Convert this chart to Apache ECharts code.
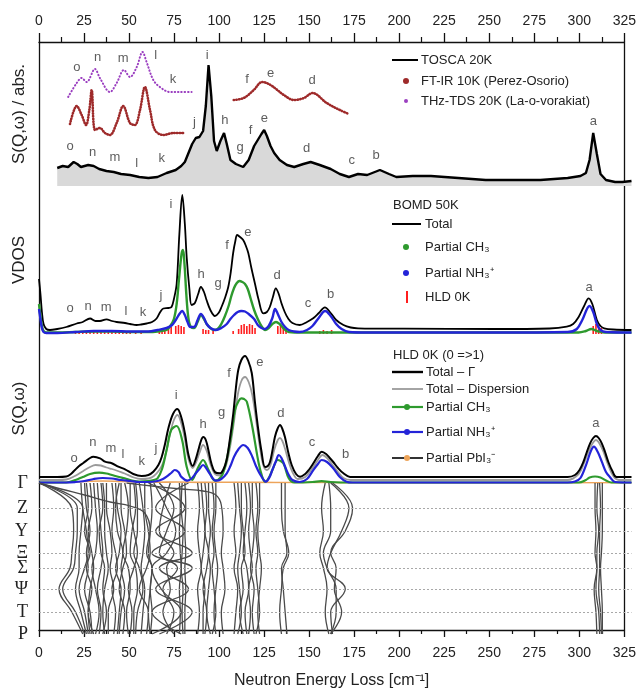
<!DOCTYPE html>
<html>
<head>
<meta charset="utf-8">
<script src="https://cdn.jsdelivr.net/npm/echarts@6/dist/echarts.min.js"></script>
<style>
html,body{margin:0;padding:0;background:#fff}
#chart{width:639px;height:694px}
</style>
</head>
<body>
<div id="chart"></div>
<script>
// ---------- Panel 1: INS spectrum (TOSCA) and optical spectra ----------
var tosca = [[10,18],[13,20],[16,19],[19,24],[21,22],[23,19],[25,20],[27,21],[30,20],[33,17],[37,15],[41,14],[45,12],[50,11],[55,9],[60,8],[65,9],[70,13],[75,16],[78,20],[80,24],[82,33],[84,42],[86,48],[88,49],[90,55],[91.5,80],[93,121],[94.5,90],[96,45],[97.5,35],[99.5,45],[101.5,53],[103,42],[105,26],[108,22],[112,19],[115,26],[118,40],[120,46],[122,52],[123.5,56],[125,50],[127,40],[129,33],[132,26],[136,21],[140,19],[145,22],[149,24],[154,21],[160,17],[165,12],[170,9],[175,12],[180,11],[187,16],[192,12],[196,9],[205,10],[215,10],[230,8],[245,6],[260,6],[275,6],[290,8],[297,10],[300,13],[302,26],[304,53],[306,32],[308,12],[311,6],[316,4],[320,4],[325,5]];
var ftirLow = [[17,62],[20.7,80],[23.4,71],[25.8,61],[27.6,76],[28.9,96],[30.7,56],[33.4,58],[36.2,53],[38.9,51],[42.6,63],[46.2,80],[49.9,63],[52.6,61],[55.4,76],[58.1,99],[60.9,76],[63.6,56],[68.2,51],[73.7,53],[79.2,53]];
var ftirHigh = [[106.8,86],[112.3,88],[117.8,96],[122.4,104],[127,101],[134.3,91],[139.8,86],[145.3,88],[150,93],[157.8,83],[165,76],[170,72]];
var thz = [[16,89],[20.7,103],[23.4,108],[26.1,104],[30.7,117],[33.4,108],[38.9,94],[42.6,103],[46.6,116],[49.9,109],[53.6,119],[56.8,134],[59,124],[62.7,106],[66.3,99],[71.8,94],[77.3,94],[83.7,94]];
var peaks1 = [['o',17,40],['n',29.4,34],['m',41.7,29],['l',53.6,23],['k',67.3,28],['j',85.2,64],['i',92.2,131],['h',102,66],['g',110.3,39],['f',116.1,56],['e',123.6,68],['d',146.8,38],['c',171.5,26],['b',184.9,31],['a',304.1,65],
              ['o',20.8,119],['n',32.2,129],['m',46.1,128],['l',64,131],['k',73.5,107],['f',114.1,107],['e',127.1,113],['d',149.8,106]];

// ---------- Panel 2: VDOS from BOMD at 50 K ----------
var vdosTotal = [[0,55],[0.8,40],[1.6,22],[2.5,10],[4,5],[6,4],[10,5],[15,7],[20.7,10.5],[24,12],[28,15.5],[31,13],[33.4,13],[37,14.7],[40,13],[42.6,12],[47.2,11],[50,10],[53.5,9],[56,9.5],[59,10.5],[62,12],[64.5,15.5],[66.5,22],[68.2,25.5],[71,26],[72.7,27],[74,35],[75.5,50],[77,100],[78.6,139],[80,110],[81,77],[82.5,45],[83.7,29],[85.5,31],[87.3,40],[88.8,47],[90.5,42],[91.9,34],[94,24],[96.5,18],[98.5,21],[100.1,27],[102,36],[103.8,47],[105.2,62],[106.5,81],[107.7,93],[108.7,99],[110.3,97],[112,94],[113.5,88],[114.8,81],[116.5,66],[118.5,50],[120.5,34],[123,20.7],[125,22],[126.6,27],[128.3,37],[129.9,45.7],[131.5,40],[133,30.7],[134.8,22],[136.6,15.7],[139,11],[143,9],[147,12],[150.4,15.7],[153.5,21],[156.8,26.7],[160,21],[163,14],[167,9],[171,6.5],[175,5.7],[200,5.3],[250,5],[280,5.5],[289.5,7.3],[293,10],[296,17],[299,28],[301.5,35.7],[303.5,30],[306,14],[308,8],[310,5.7],[315,4.5],[325,4]];
var vdosCH3 = [[0,30],[0.8,18],[1.6,8],[2.5,3],[4,1.5],[10,1.5],[20,2],[30,2.5],[40,2.5],[50,2],[60,2],[65,2.5],[70,4],[72,8],[74,15],[75.5,30],[76.8,55],[78.2,80],[79,84],[79.8,70],[80.8,40],[81.8,18],[83,8],[85,6],[87,12],[88.8,19],[90.5,15],[92,10],[94,6],[96,4],[98,5],[100,10],[102,18],[104,28],[105.5,38],[107,46],[108.5,51],[110,53],[111.5,52],[113,50],[114.5,45],[116,36],[118,24],[120,15],[122,8],[124,4],[126,6],[128,10],[130,12],[132,10],[134,6],[137,2],[145,1.5],[160,1.5],[200,1.5],[296,1.5],[300,3],[303,5],[306,3],[310,1.5],[325,1.5]];
var vdosNH3 = [[0,25],[0.8,15],[1.6,6],[2.5,2],[4,1],[10,1],[20,2],[30,3],[40,3],[50,2.5],[60,2.5],[65,4],[70,6],[73,9],[75,14],[77,20],[78.5,23],[80,19],[81.5,12],[83,7],[85,7],[87,14],[88.8,20],[90.5,16],[92,10],[94,6],[97,4],[100,6],[103,10],[105,15],[107,19],[109,22],[111,23],[113,22.5],[115,20],[118,15],[120,9],[122,6],[124,5],[126,8],[128,16],[129.5,25],[131,20],[133,12],[135,7],[137,4],[140,2.5],[143,2],[147,4],[150,8],[153,15],[157,23],[160,18],[163,10],[166,5],[170,2],[180,1.5],[250,1.5],[290,2],[295,5],[298,14],[302,28],[304,22],[306,10],[308,4],[311,2],[325,1.5]];
var hldSticks = [[20,2],[22,3],[24,2],[26,3],[28,2],[30,3],[32,2],[34,3],[36,2],[38,3],[40,2],[42,3],[44,2],[46,3],[48,2],[50,3],[53,2],[56,2],[66,3],[67.5,5],[69,4],[71,6],[72.5,7],[75,8],[76.5,9],[78,8],[79.5,7],[90,5],[91.5,4],[93,4],[95.5,3],[106.5,3],[109.5,5],[111,9],[112.5,10],[114,8],[115.5,10],[117,9],[118.5,6],[131,8],[132.5,9],[134,7],[135.5,5],[154,3],[156,4],[158,3],[160.5,4],[304,8],[305.5,10],[307,9],[308.5,6]];
var peaks2 = [['o',17,26],['n',26.9,28],['m',36.8,27],['l',47.7,23],['k',57,22],['j',66.9,39],['i',72.4,130],['h',88.9,60],['g',98.2,51],['f',103.1,89],['e',114.6,102],['d',130.6,59],['c',147.6,31],['b',160,40],['a',301.7,47]];

// ---------- Panel 3: harmonic lattice dynamics, 0 -> 1 transitions ----------
var hldGamma = [[0,6],[10,6],[15,6.5],[17.5,9],[19.7,13],[22,17],[24.3,20],[28,25],[29.8,26.3],[33.5,24.7],[36.2,21.3],[39.9,19.7],[43.5,16.3],[47.2,13.7],[51.7,9],[56.3,7],[60,8],[62.7,11.3],[65.5,18],[67.3,26],[69,38],[71,55],[73.5,69],[75.9,74],[78,66],[80,50],[82,28],[84.3,17],[86,24],[87.4,33],[89,43],[90.1,46],[91.5,43],[92.9,33],[94.5,20],[96.5,11],[99.3,9.7],[101,13],[102.9,23],[104.8,45],[106.6,70],[108,95],[109.3,113],[111,123],[113,127],[114.8,122],[116.7,110],[118.5,80],[120.3,53],[122,32],[124,16],[125.5,17],[126.7,21],[128,32],[129.4,46],[130.8,54],[132.2,58],[133.5,54],[134.9,46],[136.8,30],[138.6,18],[141,9],[143.2,6.3],[146,9],[148,13],[150.5,19.7],[153,27],[155.1,31.3],[157.5,29],[159.5,25],[161.4,21],[164,15],[167,9.7],[170.6,6],[180,6],[250,6],[290,6],[294,8],[296.5,13],[298.6,21],[300.5,31],[302.3,39.7],[304,45],[305.5,47],[307,45],[308.7,39.7],[310.5,31],[312.3,21],[314.5,12],[316.8,6],[325,6]];
var hldDispersion = [[0,3],[10,3],[15,3.5],[19.7,7],[24.3,12],[28,16],[31,18],[34,17.5],[37,15.5],[40,14],[44,11.5],[47,9.5],[52,5.5],[56,4],[60,4.5],[63,7],[66,13],[68,20],[70,33],[72,50],[74,63],[76,68],[78,60],[80,44],[82,24],[84.3,15],[86,20],[88,30],[90,38],[92,32],[94,19],[96.5,9],[99,7.5],[101,11],[103,20],[105,38],[107,62],[109,88],[111,102],[113,106],[115,101],[117,88],[119,64],[121,38],[123,18],[125,13],[127,18],[129,33],[131,43],[132.2,45],[133.5,42],[135,34],[137,21],[139,11],[142,4],[146,6],[150,15],[153,23],[155.5,28],[158,25],[161,18],[164,11],[167,5],[171,3],[290,3],[296,9],[299,20],[302,34],[305.5,43],[309,34],[312,19],[315,7],[318,3],[325,3]];
var hldCH3 = [[0,0.5],[15,0.5],[20,3],[24,6],[28,9],[33,10.3],[37,9.5],[40,8],[44,6],[47,4.7],[51,2.5],[55,1.5],[60,2],[63,3],[65,4.7],[67.5,14],[70,33],[72.5,53],[75.5,57],[78.5,43],[81,16.3],[84,3],[86,10],[87.4,16],[90,23],[93,13],[96.5,2.3],[100,6.3],[102,16],[104,33],[106,55],[107.5,73],[109.5,82],[111,84.7],[112.5,84],[114,81.3],[117,56.3],[120.5,19.7],[122.5,6],[124,1.3],[126,5],[128,13],[131,23],[134,19.7],[137,4.7],[140,0.5],[150,1],[155,1.8],[160,1],[170,0.5],[296,0.5],[300,3],[302,5.5],[305,6.5],[308,5.5],[311,2.5],[314,0.5],[325,0.5]];
var hldNH3 = [[0,0.5],[15,0.5],[20,1],[25,2],[30,4],[35,5],[40,4.5],[45,3],[50,2],[55,1],[60,1],[65,2],[68,4],[70,6.3],[72.5,10],[74.5,13],[76.5,11],[78,6.3],[81.5,2.3],[84,5],[86,9.7],[88,14],[90,18],[92,14],[93.5,9.7],[97,2.3],[100,4],[103,9.7],[105,17],[107,26.3],[109.5,34],[112,38],[114.5,35],[117,26.3],[119,17],[121,9.7],[124.5,1.3],[126.5,6],[128,13],[130,22],[131.5,28],[133,25],[135,16.3],[137,8],[139,3],[143,1],[147,4],[150.5,13],[153,19],[155,23],[158,21],[161.4,14.7],[165,6],[168.7,1.3],[172,0.5],[290,0.5],[294,1.5],[297,5],[300.4,19.7],[302.5,31],[304.4,36.3],[306.5,31],[308.7,21.3],[311,11],[313,6.3],[316,1],[325,0.5]];
var hldPbI3 = [[0,0.3],[15,0.5],[25,1.5],[35,2],[45,1.5],[55,1],[65,0.8],[75,1],[90,0.6],[110,0.8],[130,0.5],[160,0.5],[170,0.3],[325,0.3]];
var peaks3 = [['o',19.2,25],['n',29.5,41],['m',39.5,35],['l',46.1,29],['k',56.3,22],['j',64.2,35],['i',75.2,88],['h',90,59],['g',100.2,71],['f',104.2,110],['e',121.2,121],['d',132.7,70],['c',149.8,41],['b',168.2,29],['a',305.5,60]];

// ---------- Panel 4: phonon dispersion along the k-path ----------
var kNames = ['\u0393','Z','Y','\u039E','\u03A3','\u03A8','T','P'];
var kVals = [0, 25, 48, 70, 85, 106, 129, 151];
// frequency of each branch at the k-points above
var bands = [
  [0,18,19,18,17,11,18,24],[0,21,21,20,19,13,20,25],[0,24,23,22,22,20,23,26],
  [23,24,26,27,25,22,25,27],[25,26,28,26,27,25,28,29],[28,29,27,29,30,28,27,30],[30,31,32,31,29,31,33,31],
  [32,33,34,35,34,32,34,33],[35,36,36,37,38,36,35,36],[37,37,39,40,39,41,38,38],[40,41,40,42,43,40,42,41],
  [42,43,45,44,42,45,44,43],[45,45,47,48,46,44,47,46],[47,49,48,46,49,50,48,49],[50,50,52,54,52,49,51,50],
  [53,54,54,52,55,57,54,53],[55,57,58,57,56,58,57,56],[58,58,60,61,59,55,60,59],[61,62,61,59,62,61,62,61],
  [26,27,25,28,26,29,27,28],[34,35,33,34,36,35,37,35],[44,42,43,46,45,47,45,44],[52,53,51,50,53,54,52,52],
  [60,80,64,84,66,82,62,78],[82,64,80,62,84,64,84,66],[66,74,70,66,76,68,74,70],[72,68,66,74,70,72,68,74],[63,70,75,70,62,67,78,62],
  [77,77.5,77,77.5,78,77,77.5,77],[78.5,78,79,78.5,78,79,78.5,79],[80,80.5,80,80.5,80,80.5,80,80],
  [87,88,87,88,89,87,88,87],[89,90,91,90,89,91,90,90],[91,92,91,93,92,90,92,91],[93,93,94,93,94,93,92,94],[95,96,95,96,95,96,97,95],[97,97,96,97,98,97,96,97],
  [107,108,107,108,107,109,108,107],[109,110,111,110,109,110,111,109],[111,111,112,113,111,112,110,112],[113,114,113,112,114,115,113,114],
  [115,116,115,116,117,115,116,115],[117,117,118,117,116,118,117,118],[119,120,119,120,119,120,121,119],[121,121,120,121,122,121,120,121],
  [133,133,134,137,134,133,132,133],[135,135,135,136,133,134,135,136],
  [157,155,156,154,156,158,157,159],[159,160,160,156,158,163,163,160],[160,170,166,160,158,168,160,161],[161,172,168,160,163,162,166,160],
  [305,305,305.5,305,306,304.5,305.5,306],[306.5,306,307,306,306,305.5,307,307.5],[307.5,308,307.5,307.5,307.5,307,308,308.5],[309,309,309,308.5,308,308.5,309,309]
];
// branches that sweep across the top of the path: [frequency, k]
var sweepBands = [
  [[0,0],[12,6],[25,12],[39,19],[50,23],[58,30],[61,48],[60,70],[62,85],[61,106],[60,129],[61,151]],
  [[48,0],[62,3],[78,6],[90,8],[97,12],[100,22],[101,48],[100,70],[101,85],[102,106],[100,129],[101,151]]
];

// ---------- styling ----------
var FONT = '"Liberation Sans", Arial, sans-serif';
var INK = '#222';
var GREEN = '#2e9a2e', BLUE = '#2424d8', RED = '#ff1e1e', DARKRED = '#9e2a2a', PURPLE = '#9b3fc0', ORANGE = '#eda45a';
var BAND = '#4a4a4a';

var chart = echarts.init(document.getElementById('chart'), null, {renderer: 'canvas'});

function panelX(gi) {
  return {gridIndex: gi, type: 'value', min: 0, max: 325, show: false};
}
function panelY(gi, max, name) {
  return {
    gridIndex: gi, type: 'value', min: 0, max: max,
    name: name, nameLocation: 'middle', nameGap: 11,
    nameTextStyle: {fontFamily: FONT, fontSize: 17, color: INK},
    axisLine: {show: false}, axisTick: {show: false}, axisLabel: {show: false}, splitLine: {show: false}
  };
}
function frameX(pos, tickLen, margin, extra) {
  var ax = {
    gridIndex: 0, type: 'value', position: pos, min: 0, max: 325, interval: 25,
    axisLine: {show: true, onZero: false, lineStyle: {color: '#111', width: 1.3}},
    axisTick: {show: true, inside: false, length: tickLen, lineStyle: {color: '#111', width: 1.3}},
    minorTick: {show: true, splitNumber: 2, length: Math.round(tickLen / 2), lineStyle: {color: '#111', width: 1.2}},
    axisLabel: {fontFamily: FONT, fontSize: 14, color: INK, margin: margin},
    splitLine: {show: false}, minorSplitLine: {show: false}
  };
  return Object.assign(ax, extra || {});
}
function frameY(pos) {
  return {gridIndex: 0, type: 'value', position: pos, min: 0, max: 1,
    axisLine: {show: true, onZero: false, lineStyle: {color: '#111', width: 1.3}},
    axisTick: {show: false}, axisLabel: {show: false}, splitLine: {show: false}};
}
function curve(data, xi, color, width, extra) {
  return Object.assign({
    type: 'line', xAxisIndex: xi, yAxisIndex: xi, data: data,
    symbol: 'none', smooth: 0.35, silent: true,
    lineStyle: {color: color, width: width}
  }, extra || {});
}
function peakLabels(list, xi) {
  return {
    type: 'scatter', xAxisIndex: xi, yAxisIndex: xi, silent: true,
    symbolSize: 1, itemStyle: {color: 'rgba(0,0,0,0)'},
    label: {show: true, position: 'inside', formatter: '{b}', fontFamily: FONT, fontSize: 13, color: '#333'},
    data: list.map(function (p) { return {name: p[0], value: [p[1], p[2]]}; })
  };
}

var series = [];
// panel 1
series.push(curve(tosca, 1, '#000', 2.4, {smooth: false, areaStyle: {color: '#d9d9d9', opacity: 1}}));
series.push(curve(ftirLow, 1, DARKRED, 2.6, {lineStyle: {color: DARKRED, width: 2.6, type: [0.5, 2.2], cap: 'round'}}));
series.push(curve(ftirHigh, 1, DARKRED, 2.6, {lineStyle: {color: DARKRED, width: 2.6, type: [0.5, 2.2], cap: 'round'}}));
series.push(curve(thz, 1, PURPLE, 2, {lineStyle: {color: PURPLE, width: 2, type: [0.5, 2.8], cap: 'round'}}));
series.push(peakLabels(peaks1, 1));
// panel 2
series.push(curve(vdosTotal, 2, '#000', 1.8));
series.push(curve(vdosCH3, 2, GREEN, 2.4));
series.push(curve(vdosNH3, 2, BLUE, 2.4));
series.push({type: 'bar', xAxisIndex: 2, yAxisIndex: 2, data: hldSticks, barWidth: 1.6, silent: true, itemStyle: {color: RED}});
series.push(peakLabels(peaks2, 2));
// panel 3
series.push(curve(hldPbI3, 3, ORANGE, 1.6));
series.push(curve(hldDispersion, 3, '#9a9a9a', 1.8));
series.push(curve(hldCH3, 3, GREEN, 2.2));
series.push(curve(hldNH3, 3, BLUE, 2.2));
series.push(curve(hldGamma, 3, '#000', 2));
series.push(peakLabels(peaks3, 3));
// panel 4
bands.forEach(function (b, idx) {
  var s = curve(b.map(function (f, i) { return [f, kVals[i]]; }), 4, BAND, 1.3, {smooth: 0.4});
  if (idx === 0) {
    s.markLine = {
      silent: true, symbol: ['none', 'none'], label: {show: false},
      lineStyle: {color: '#a8a8a8', width: 1, type: [2, 2]},
      data: kVals.slice(1, 7).map(function (k) { return {yAxis: k}; })
    };
  }
  series.push(s);
});
sweepBands.forEach(function (b) {
  series.push(curve(b, 4, BAND, 1.3, {smooth: 0.4}));
});

// legend blocks
var G = [];
function gText(x, y, t) {
  G.push({type: 'text', x: x, y: y, silent: true,
    style: {text: t, fill: INK, font: '13px ' + FONT, verticalAlign: 'middle'}});
}
function gLine(x1, x2, y, color, w) {
  G.push({type: 'line', silent: true, shape: {x1: x1, y1: y, x2: x2, y2: y}, style: {stroke: color, lineWidth: w}});
}
function gVLine(x, y1, y2, color, w) {
  G.push({type: 'line', silent: true, shape: {x1: x, y1: y1, x2: x, y2: y2}, style: {stroke: color, lineWidth: w}});
}
function gDot(x, y, r, color) {
  G.push({type: 'circle', silent: true, shape: {cx: x, cy: y, r: r}, style: {fill: color}});
}
// panel 1 legend
gLine(392, 418, 60, '#000', 2); gText(421, 60, 'TOSCA 20K');
gDot(406, 81, 3, DARKRED); gText(421, 81, 'FT-IR 10K (Perez-Osorio)');
gDot(406, 101, 2, PURPLE); gText(421, 101, 'THz-TDS 20K (La-o-vorakiat)');
// panel 2 legend
gText(393, 205, 'BOMD 50K');
gLine(392, 421, 224, '#000', 2); gText(425, 224, 'Total');
gDot(406, 247, 3, GREEN); gText(425, 247, 'Partial CH\u2083');
gDot(406, 273, 3, BLUE); gText(425, 273, 'Partial NH\u2083\u207A');
gVLine(407, 291, 303, RED, 2); gText(425, 297, 'HLD 0K');
// panel 3 legend
gText(393, 355, 'HLD 0K (0 =>1)');
gLine(392, 423, 372, '#000', 2.4); gText(426, 372, 'Total \u2013 \u0393');
gLine(392, 423, 389, '#9a9a9a', 1.8); gText(426, 389, 'Total \u2013 Dispersion');
gLine(392, 423, 407, GREEN, 2.2); gDot(407, 407, 3, GREEN); gText(426, 407, 'Partial CH\u2083');
gLine(392, 423, 432, BLUE, 2.2); gDot(407, 432, 3, BLUE); gText(426, 432, 'Partial NH\u2083\u207A');
gLine(392, 423, 458, '#333', 2); gDot(407, 458, 3, ORANGE); gText(426, 458, 'Partial PbI\u2083\u207B');

var option = {
  backgroundColor: '#fff',
  animation: false,
  grid: [
    {left: 39, right: 7.5, top: 42, bottom: 60},
    {left: 39, right: 7.5, top: 42, height: 144},
    {left: 39, right: 7.5, top: 186, height: 148},
    {left: 39, right: 7.5, top: 334, height: 149},
    {left: 39, right: 7.5, top: 483, height: 151}
  ],
  xAxis: [
    frameX('top', 9, 14),
    panelX(1), panelX(2), panelX(3), panelX(4),
    frameX('bottom', 7, 16, {name: 'Neutron Energy Loss [cm\u207B\u00B9]', nameLocation: 'middle', nameGap: 43,
      nameTextStyle: {fontFamily: FONT, fontSize: 16, color: INK}})
  ],
  yAxis: [
    frameY('left'),
    panelY(1, 144, 'S(Q,\u03C9) / abs.'),
    panelY(2, 148, 'VDOS'),
    panelY(3, 149, 'S(Q,\u03C9)'),
    {
      gridIndex: 4, type: 'value', min: 0, max: 151, inverse: true,
      axisLine: {show: false}, axisTick: {show: false}, splitLine: {show: false},
      axisLabel: {
        show: true, customValues: kVals, margin: 11,
        fontFamily: '"Liberation Serif", "DejaVu Serif", serif', fontSize: 18, color: INK,
        formatter: function (v) { var i = kVals.indexOf(v); return i < 0 ? '' : kNames[i]; }
      }
    },
    frameY('right')
  ],
  graphic: G,
  series: series
};
chart.setOption(option);
</script>
</body>
</html>
